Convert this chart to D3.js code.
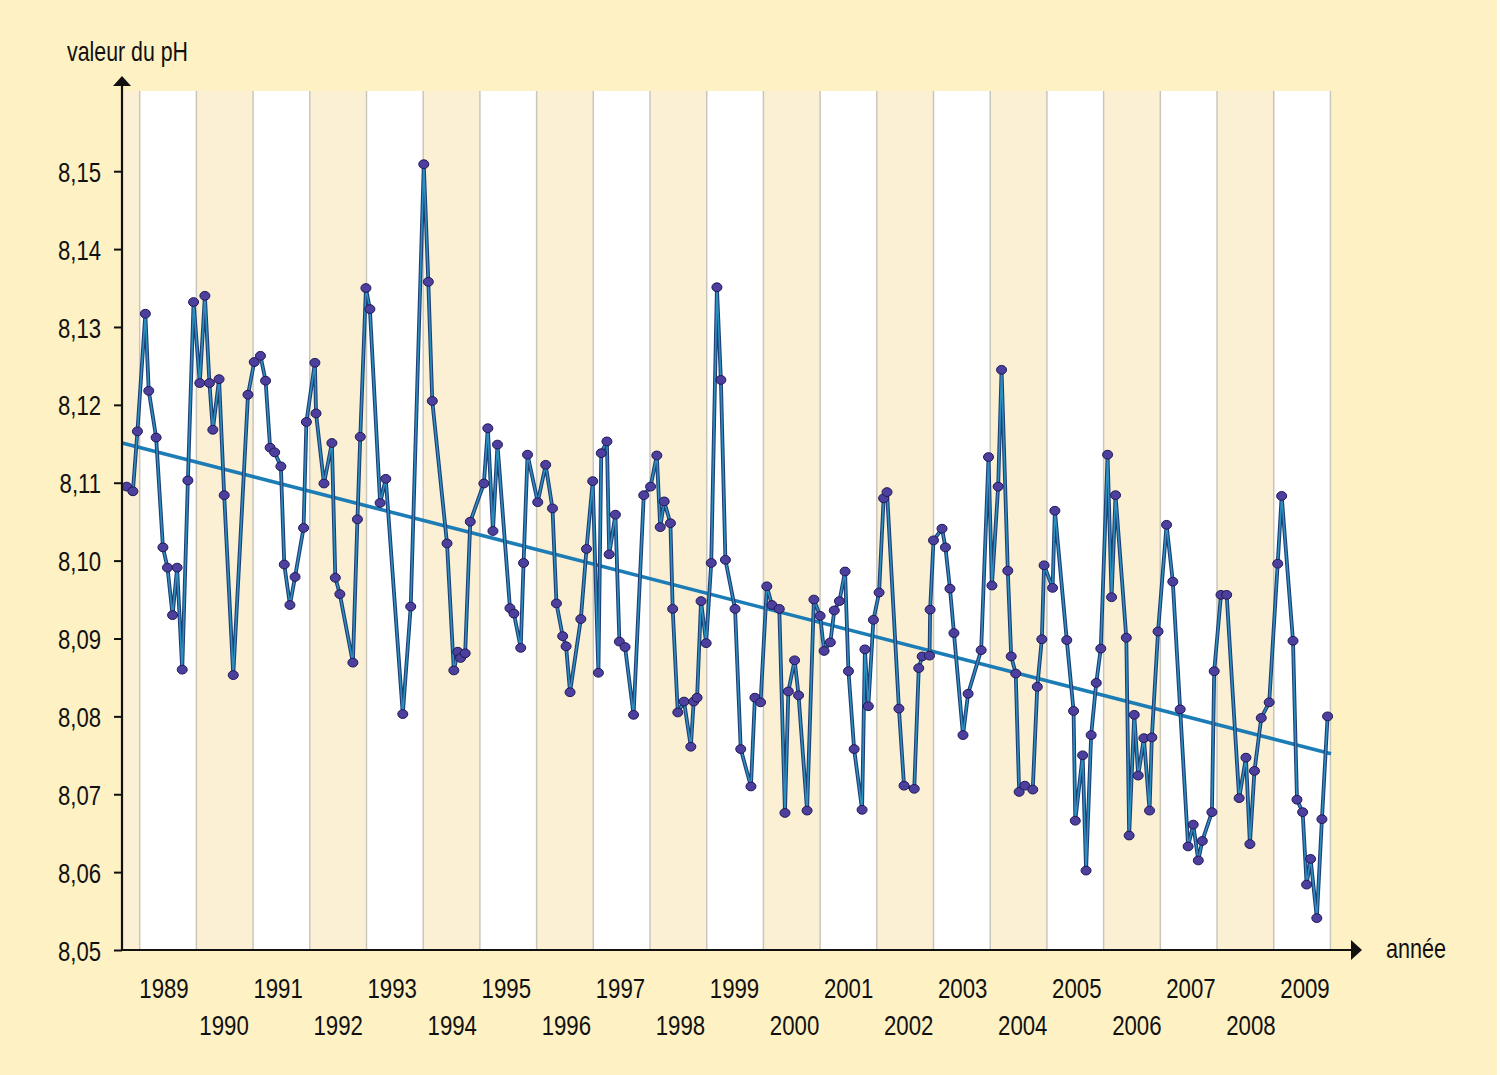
<!DOCTYPE html>
<html>
<head>
<meta charset="utf-8">
<script src="https://cdn.jsdelivr.net/npm/d3@7"></script>
<style>
  html, body { margin: 0; padding: 0; background: #ffffff; }
  svg { display: block; }
  text { font-family: "Liberation Sans", Arial, sans-serif; fill: #111; }
</style>
</head>
<body>
<svg id="chart" width="1500" height="1075"></svg>
<script>
// ---- data ----
const dates = [
  1988.77,1988.88,1988.96,
  1989.10,1989.16,1989.29,1989.41,1989.49,1989.58,1989.66,1989.75,1989.85,1989.95,
  1990.06,1990.15,1990.23,1990.29,1990.40,1990.49,1990.65,1990.91,
  1991.02,1991.13,1991.22,1991.30,1991.38,1991.49,1991.55,1991.65,1991.74,1991.89,1991.94,
  1992.09,1992.11,1992.25,1992.39,1992.45,1992.53,1992.76,1992.84,1992.89,1992.99,
  1993.06,1993.24,1993.34,1993.64,1993.78,
  1994.01,1994.09,1994.16,1994.42,1994.54,1994.61,1994.66,1994.74,1994.83,
  1995.07,1995.14,1995.23,1995.31,1995.53,1995.60,1995.72,1995.77,1995.84,
  1996.02,1996.16,1996.28,1996.35,1996.46,1996.52,1996.59,1996.78,1996.88,1996.99,
  1997.09,1997.14,1997.24,1997.28,1997.39,1997.46,1997.56,1997.71,1997.89,
  1998.01,1998.12,1998.18,1998.25,1998.36,1998.40,1998.49,1998.60,1998.72,1998.77,1998.83,1998.90,1998.99,
  1999.08,1999.18,1999.25,1999.33,1999.50,1999.60,1999.78,1999.85,1999.95,
  2000.06,2000.15,2000.28,2000.38,2000.44,2000.55,2000.62,2000.77,2000.89,
  2001.00,2001.07,2001.18,2001.25,2001.34,2001.44,2001.50,2001.60,2001.74,2001.79,2001.85,2001.94,
  2002.04,2002.12,2002.18,2002.39,2002.48,2002.66,2002.74,2002.80,2002.93,2002.94,
  2003.00,2003.15,2003.21,2003.29,2003.36,2003.52,2003.61,2003.84,2003.97,
  2004.03,2004.14,2004.20,2004.31,2004.37,2004.45,2004.51,2004.61,2004.75,2004.83,2004.91,2004.95,
  2005.10,2005.14,2005.35,2005.47,2005.50,2005.63,2005.69,2005.78,2005.87,2005.95,
  2006.07,2006.14,2006.21,2006.40,2006.45,2006.54,2006.61,2006.71,2006.81,2006.85,2006.96,
  2007.11,2007.22,2007.35,2007.49,2007.58,2007.67,2007.74,2007.91,2007.95,
  2008.07,2008.17,2008.39,2008.51,2008.58,2008.66,2008.78,2008.92,
  2009.07,2009.14,2009.34,2009.41,2009.51,2009.58,2009.65,2009.76,2009.85,2009.95
];
const phValues = [
  8.1095,8.1089,8.1166,
  8.1317,8.1218,8.1158,8.1017,8.0991,8.0930,8.0991,8.0860,8.1103,8.1332,
  8.1228,8.1340,8.1228,8.1168,8.1233,8.1084,8.0853,8.1213,
  8.1255,8.1263,8.1231,8.1145,8.1139,8.1121,8.0995,8.0943,8.0979,8.1042,8.1178,
  8.1254,8.1189,8.1099,8.1151,8.0978,8.0957,8.0869,8.1053,8.1159,8.1350,
  8.1323,8.1074,8.1105,8.0803,8.0941,
  8.1509,8.1358,8.1205,8.1022,8.0859,8.0883,8.0875,8.0881,8.1050,
  8.1099,8.1170,8.1038,8.1149,8.0939,8.0932,8.0888,8.0997,8.1136,
  8.1075,8.1123,8.1067,8.0945,8.0903,8.0890,8.0831,8.0925,8.1015,8.1102,
  8.0856,8.1138,8.1153,8.1008,8.1059,8.0896,8.0889,8.0802,8.1084,
  8.1095,8.1135,8.1043,8.1076,8.1048,8.0938,8.0805,8.0819,8.0761,8.0819,8.0824,8.0948,8.0894,
  8.0997,8.1351,8.1232,8.1001,8.0938,8.0758,8.0710,8.0824,8.0818,
  8.0967,8.0943,8.0938,8.0676,8.0832,8.0872,8.0827,8.0679,8.0950,
  8.0929,8.0884,8.0895,8.0936,8.0948,8.0986,8.0858,8.0758,8.0680,8.0886,8.0813,8.0924,
  8.0959,8.1080,8.1088,8.0810,8.0711,8.0707,8.0862,8.0877,8.0878,8.0937,
  8.1026,8.1041,8.1017,8.0964,8.0907,8.0776,8.0829,8.0885,8.1133,
  8.0968,8.1095,8.1245,8.0987,8.0877,8.0855,8.0703,8.0711,8.0706,8.0838,8.0899,8.0994,
  8.0965,8.1064,8.0898,8.0807,8.0666,8.0750,8.0602,8.0776,8.0843,8.0887,
  8.1136,8.0953,8.1084,8.0901,8.0647,8.0802,8.0724,8.0772,8.0679,8.0773,8.0909,
  8.1046,8.0973,8.0809,8.0633,8.0661,8.0615,8.0640,8.0677,8.0858,
  8.0956,8.0956,8.0695,8.0747,8.0636,8.0730,8.0798,8.0818,
  8.0996,8.1083,8.0897,8.0693,8.0677,8.0584,8.0617,8.0541,8.0668,8.0800
];
const trendDates = [1988.69, 2010.01];
const trendValues = [8.1151, 8.0752];
const yearLabels = d3.range(1989, 2010);          // 1989 … 2009
const bandYears = d3.range(1988, 2010);           // background stripes
const yTicks = [8.05, 8.06, 8.07, 8.08, 8.09, 8.10, 8.11, 8.12, 8.13, 8.14, 8.15];

// ---- layout ----
const svg = d3.select("#chart");
const plotLeft = 122, plotRight = 1331, plotTop = 91, plotBottom = 950;
const narrow = 0.79;   // horizontal squeeze to mimic the condensed typeface

svg.append("rect").attr("x", 0).attr("y", 0).attr("width", 1497).attr("height", 1075).attr("fill", "#fef1c3");

const x = d3.scaleLinear().domain([1988.688, 2010.01]).range([plotLeft, plotRight]);
const y = d3.scaleLinear().domain([8.05, 8.1603]).range([plotBottom, plotTop]);
// label positions (labels sit on a slightly different pitch than the stripes)
const xLabel = d3.scaleLinear().domain([1989, 2009]).range([164, 1305]);

// stripes
const bands = svg.append("g");
bandYears.forEach(yr => {
  const x0 = Math.max(x(yr), plotLeft), x1 = Math.min(x(yr + 1), plotRight);
  bands.append("rect")
    .attr("x", x0).attr("y", plotTop).attr("width", x1 - x0).attr("height", plotBottom - plotTop)
    .attr("fill", yr % 2 === 1 ? "#ffffff" : "#fcf0d4");
});
bandYears.slice(1).concat([2010]).forEach(yr => {
  bands.append("line")
    .attr("x1", x(yr)).attr("x2", x(yr)).attr("y1", plotTop).attr("y2", plotBottom)
    .attr("stroke", "#c9c6bc").attr("stroke-width", 1.5);
});

// trend line
svg.append("path")
  .datum(trendDates.map((d, i) => [d, trendValues[i]]))
  .attr("d", d3.line().x(d => x(d[0])).y(d => y(d[1])))
  .attr("fill", "none").attr("stroke", "#1c7db6").attr("stroke-width", 3.6);

// data line
const pts = dates.map((d, i) => [d, phValues[i]]);
const line = d3.line().x(d => x(d[0])).y(d => y(d[1]));
svg.append("path").datum(pts).attr("d", line)
  .attr("fill", "none").attr("stroke", "#1f3d73").attr("stroke-width", 3.8).attr("stroke-linejoin", "round");
svg.append("path").datum(pts).attr("d", line)
  .attr("fill", "none").attr("stroke", "#2b8fc0").attr("stroke-width", 1.6).attr("stroke-linejoin", "round");

// markers
svg.append("g").selectAll("ellipse").data(pts).join("ellipse")
  .attr("cx", d => x(d[0])).attr("cy", d => y(d[1]))
  .attr("rx", 5).attr("ry", 4.4)
  .attr("fill", "#4d3f9e").attr("stroke", "#1e1956").attr("stroke-width", 1);

// y axis
const yAxis = d3.axisLeft(y).tickValues(yTicks).tickSize(8).tickPadding(13)
  .tickFormat(d => d.toFixed(2).replace(".", ","));
const gy = svg.append("g").attr("transform", `translate(${plotLeft},0)`).call(yAxis);
gy.select(".domain").remove();
gy.selectAll(".tick line").attr("stroke", "#111").attr("stroke-width", 2);
gy.selectAll(".tick text")
  .attr("x", null).attr("dy", "0.36em")
  .attr("transform", `translate(-21,0) scale(${narrow},1)`)
  .attr("font-size", 28).attr("fill", "#111")
  .style("font-family", '"Liberation Sans", Arial, sans-serif');

// axis lines + arrows
svg.append("line").attr("x1", plotLeft).attr("x2", plotLeft).attr("y1", plotBottom + 1).attr("y2", 84)
  .attr("stroke", "#111").attr("stroke-width", 2.2);
svg.append("path").attr("d", `M${plotLeft - 9},86 L${plotLeft},76 L${plotLeft + 9},86 Z`).attr("fill", "#111");
svg.append("line").attr("x1", plotLeft - 1).attr("x2", 1354).attr("y1", plotBottom).attr("y2", plotBottom)
  .attr("stroke", "#111").attr("stroke-width", 2.2);
svg.append("path").attr("d", `M1351,940 L1362,${plotBottom} L1351,960 Z`).attr("fill", "#111");

// x labels (alternating rows)
svg.append("g").selectAll("text").data(yearLabels).join("text")
  .attr("transform", d => `translate(${xLabel(d) + (d % 2 === 1 ? 0 : 3)},${d % 2 === 1 ? 998 : 1035}) scale(0.78,1)`)
  .attr("text-anchor", "middle").attr("font-size", 28.5)
  .text(d => d);

// titles
svg.append("text").attr("transform", `translate(67,61) scale(${narrow},1)`).attr("font-size", 27).text("valeur du pH");
svg.append("text").attr("transform", `translate(1386,958) scale(0.8,1)`).attr("font-size", 27).text("année");
</script>
</body>
</html>
